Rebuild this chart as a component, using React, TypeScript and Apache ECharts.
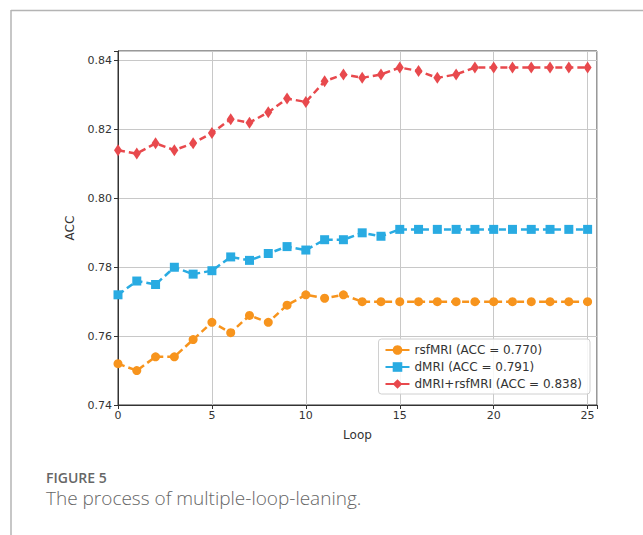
import React, { useEffect, useRef } from "react";
import * as echarts from "echarts";

const loops = [0,1,2,3,4,5,6,7,8,9,10,11,12,13,14,15,16,17,18,19,20,21,22,23,24,25];
const rsfMRI = [0.752,0.750,0.754,0.754,0.759,0.764,0.761,0.766,0.764,0.769,0.772,0.771,0.772,0.770,0.770,0.770,0.770,0.770,0.770,0.770,0.770,0.770,0.770,0.770,0.770,0.770];
const dMRI = [0.772,0.776,0.775,0.780,0.778,0.779,0.783,0.782,0.784,0.786,0.785,0.788,0.788,0.790,0.789,0.791,0.791,0.791,0.791,0.791,0.791,0.791,0.791,0.791,0.791,0.791];
const combined = [0.814,0.813,0.816,0.814,0.816,0.819,0.823,0.822,0.825,0.829,0.828,0.834,0.836,0.835,0.836,0.838,0.837,0.835,0.836,0.838,0.838,0.838,0.838,0.838,0.838,0.838];
const seriesNames = ["rsfMRI (ACC = 0.770)", "dMRI (ACC = 0.791)", "dMRI+rsfMRI (ACC = 0.838)"];
const yTicks = [0.74, 0.76, 0.78, 0.80, 0.82, 0.84];
const xTicks = [0, 5, 10, 15, 20, 25];

const FONT = "'DejaVu Sans'";

export default function App() {
  const ref = useRef<HTMLDivElement>(null);
  useEffect(() => {
    if (!ref.current) return;
    const chart = echarts.init(ref.current, undefined, { renderer: "svg" });
    const mk = (vals: number[]) => loops.map((x, i) => [x, vals[i]]);
    const colors = ["#f7941d", "#29abe2", "#e8494d"];
    const symbols = ["circle", "rect", "diamond"];
    const sizes: any[] = [9, 9, [8, 12]];
    const datas = [rsfMRI, dMRI, combined];
    chart.setOption({
      animation: false,
      backgroundColor: "#ffffff",
      grid: {
        left: 118, top: 51, right: 46, bottom: 130,
        show: true, borderColor: "#333", borderWidth: 1, backgroundColor: "transparent",
      },
      legend: {
        data: seriesNames,
        orient: "vertical",
        right: 53,
        top: 339,
        itemGap: 5,
        itemWidth: 24,
        itemHeight: 12,
        padding: [5, 8, 4, 6],
        borderColor: "#d0d0d0",
        borderWidth: 1,
        borderRadius: 3,
        backgroundColor: "rgba(255,255,255,0.85)",
        textStyle: { fontFamily: FONT, fontSize: 12, color: "#333" },
        lineStyle: { type: "solid" },
      },
      xAxis: {
        type: "value",
        min: 0,
        max: 25.5,
        interval: 5,
        name: "Loop",
        nameLocation: "middle",
        nameGap: 24,
        nameTextStyle: { fontFamily: FONT, fontSize: 12, color: "#333" },
        axisLine: { show: true, lineStyle: { color: "#333" } },
        axisTick: { show: true, length: 4, lineStyle: { color: "#333" } },
        axisLabel: {
          fontFamily: FONT, fontSize: 11, color: "#333", margin: 5,
          formatter: (v: number) => (xTicks.includes(v) ? String(v) : ""),
        },
        splitLine: { show: true, lineStyle: { color: "#c8c8c8", width: 1 } },
      },
      yAxis: {
        type: "value",
        min: 0.74,
        max: 0.8428,
        interval: 0.02,
        name: "ACC",
        nameLocation: "middle",
        nameGap: 42,
        nameTextStyle: { fontFamily: FONT, fontSize: 12, color: "#333" },
        axisLine: { show: true, lineStyle: { color: "#333" } },
        axisTick: { show: true, length: 4, lineStyle: { color: "#333" } },
        axisLabel: {
          fontFamily: FONT, fontSize: 11, color: "#333", margin: 6,
          formatter: (v: number) => {
            const t = yTicks.find((y) => Math.abs(y - v) < 1e-6);
            return t !== undefined ? t.toFixed(2) : "";
          },
        },
        splitLine: { show: true, lineStyle: { color: "#c8c8c8", width: 1 } },
      },
      series: datas.map((d, i) => ({
        name: seriesNames[i],
        type: "line",
        data: mk(d),
        symbol: symbols[i],
        symbolSize: sizes[i],
        showSymbol: true,
        color: colors[i],
        itemStyle: { color: colors[i] },
        lineStyle: { color: colors[i], width: 2.5, type: [7, 4] },
        z: 2 + i,
      })),
      graphic: [
        { type: "line", shape: { x1: 11, y1: 10.5, x2: 643, y2: 10.5 }, style: { stroke: "#b4b4b4", lineWidth: 1.5 } },
        { type: "line", shape: { x1: 11, y1: 10, x2: 11, y2: 535 }, style: { stroke: "#b4b4b4", lineWidth: 1.5 } },
        { type: "text", x: 46, y: 477, style: { text: "FIGURE 5", font: "600 14px 'Open Sans'", lineHeight: 14, fill: "#666", verticalAlign: "middle" } },
        { type: "text", x: 46, y: 498, style: { text: "The process of multiple-loop-leaning.", font: "300 19px 'Open Sans'", lineHeight: 19, fill: "#666", verticalAlign: "middle" } },
      ],
    });
    return () => chart.dispose();
  }, []);
  return <div ref={ref} style={{ position: "fixed", left: 0, top: 0, width: 643, height: 535 }} />;
}
